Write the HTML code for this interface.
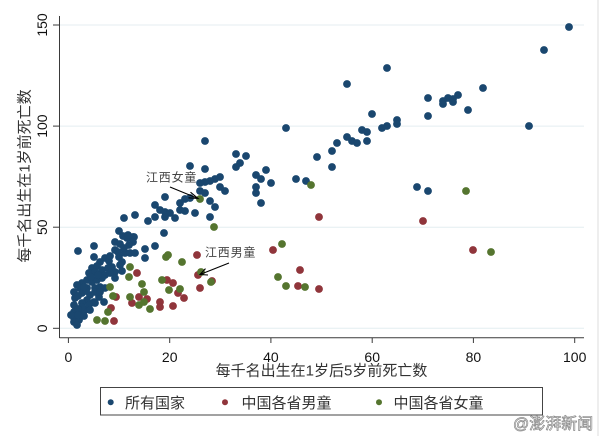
<!DOCTYPE html>
<html>
<head>
<meta charset="utf-8">
<style>
html,body{margin:0;padding:0;background:#fff;}
svg{display:block;}
text{font-family:"Liberation Sans","Noto Sans CJK SC",sans-serif;}
</style>
</head>
<body>
<svg width="600" height="436" viewBox="0 0 600 436" xmlns="http://www.w3.org/2000/svg">
<rect x="0" y="0" width="600" height="436" fill="#fff"/>
<line x1="598" y1="0" x2="598" y2="436" stroke="#dcdcdc" stroke-width="1"/>

<!-- gridlines -->
<g stroke="#e4edf0" stroke-width="1">
<line x1="60" y1="328.3" x2="584" y2="328.3"/>
<line x1="60" y1="227.2" x2="584" y2="227.2"/>
<line x1="60" y1="126.1" x2="584" y2="126.1"/>
<line x1="60" y1="25" x2="584" y2="25"/>
</g>

<!-- axes -->
<g stroke="#3a3a3a" stroke-width="1">
<line x1="59.5" y1="16" x2="59.5" y2="338"/>
<line x1="59.5" y1="337.7" x2="584" y2="337.7"/>
<line x1="53" y1="328.3" x2="59.5" y2="328.3"/>
<line x1="53" y1="227.2" x2="59.5" y2="227.2"/>
<line x1="53" y1="126.1" x2="59.5" y2="126.1"/>
<line x1="53" y1="25" x2="59.5" y2="25"/>
<line x1="68.4" y1="337.7" x2="68.4" y2="343"/>
<line x1="169.7" y1="337.7" x2="169.7" y2="343"/>
<line x1="270.9" y1="337.7" x2="270.9" y2="343"/>
<line x1="372.2" y1="337.7" x2="372.2" y2="343"/>
<line x1="473.4" y1="337.7" x2="473.4" y2="343"/>
<line x1="574.7" y1="337.7" x2="574.7" y2="343"/>
</g>

<!-- y tick labels -->
<g font-size="14" fill="#111" text-anchor="middle">
<text transform="translate(47,328.3) rotate(-90)">0</text>
<text transform="translate(47,227.2) rotate(-90)">50</text>
<text transform="translate(47,126.1) rotate(-90)">100</text>
<text transform="translate(47,25) rotate(-90)">150</text>
</g>
<!-- x tick labels -->
<g font-size="14" fill="#111" text-anchor="middle">
<text x="68.4" y="362">0</text>
<text x="169.7" y="362">20</text>
<text x="270.9" y="362">40</text>
<text x="372.2" y="362">60</text>
<text x="473.4" y="362">80</text>
<text x="574.7" y="362">100</text>
</g>

<!-- axis titles -->
<text x="321.5" y="375.5" font-size="15" fill="#333" text-anchor="middle">每千名出生在1岁后5岁前死亡数</text>
<text transform="translate(29.5,176) rotate(-90)" font-size="15" fill="#333" text-anchor="middle">每千名出生在1岁前死亡数</text>

<!-- blue: all countries -->
<g fill="#1a476f">
<circle cx="569" cy="27" r="3.9"/><circle cx="544" cy="50" r="3.9"/><circle cx="387" cy="68" r="3.9"/><circle cx="347" cy="84" r="3.9"/>
<circle cx="483" cy="88" r="3.9"/><circle cx="458" cy="95" r="3.9"/><circle cx="448" cy="98" r="3.9"/><circle cx="453" cy="99" r="3.9"/>
<circle cx="443" cy="101" r="3.9"/><circle cx="453" cy="102" r="3.9"/><circle cx="443" cy="104" r="3.9"/><circle cx="428" cy="98" r="3.9"/>
<circle cx="468" cy="110" r="3.9"/><circle cx="372" cy="114" r="3.9"/><circle cx="428" cy="116" r="3.9"/><circle cx="397" cy="120" r="3.9"/>
<circle cx="397" cy="124" r="3.9"/><circle cx="387" cy="126" r="3.9"/><circle cx="382" cy="128" r="3.9"/><circle cx="529" cy="126" r="3.9"/>
<circle cx="362" cy="130" r="3.9"/><circle cx="367" cy="132" r="3.9"/><circle cx="367" cy="141" r="3.9"/><circle cx="347" cy="137" r="3.9"/>
<circle cx="352" cy="141" r="3.9"/><circle cx="357" cy="143" r="3.9"/><circle cx="337" cy="143" r="3.9"/><circle cx="332" cy="151" r="3.9"/>
<circle cx="317" cy="157" r="3.9"/><circle cx="332" cy="167" r="3.9"/><circle cx="306" cy="181" r="3.9"/><circle cx="417" cy="187" r="3.9"/>
<circle cx="428" cy="191" r="3.9"/>
<circle cx="286" cy="128" r="3.9"/><circle cx="296" cy="179" r="3.9"/><circle cx="205" cy="141" r="3.9"/><circle cx="236" cy="154" r="3.9"/>
<circle cx="246" cy="156" r="3.9"/><circle cx="240" cy="163" r="3.9"/><circle cx="236" cy="167" r="3.9"/><circle cx="190" cy="166" r="3.9"/>
<circle cx="205" cy="169" r="3.9"/><circle cx="266" cy="170" r="3.9"/><circle cx="256" cy="175" r="3.9"/><circle cx="261" cy="179" r="3.9"/>
<circle cx="271" cy="183" r="3.9"/><circle cx="220" cy="177" r="3.9"/><circle cx="215" cy="179" r="3.9"/><circle cx="210" cy="181" r="3.9"/>
<circle cx="205" cy="182" r="3.9"/><circle cx="200" cy="183" r="3.9"/><circle cx="220" cy="187" r="3.9"/><circle cx="225" cy="191" r="3.9"/>
<circle cx="256" cy="187" r="3.9"/><circle cx="256" cy="193" r="3.9"/><circle cx="200" cy="191" r="3.9"/><circle cx="205" cy="193" r="3.9"/>
<circle cx="261" cy="203" r="3.9"/><circle cx="165" cy="197" r="3.9"/><circle cx="185" cy="199" r="3.9"/><circle cx="190" cy="198" r="3.9"/>
<circle cx="180" cy="203" r="3.9"/><circle cx="210" cy="201" r="3.9"/><circle cx="215" cy="207" r="3.9"/><circle cx="180" cy="210" r="3.9"/>
<circle cx="185" cy="211" r="3.9"/><circle cx="195" cy="213" r="3.9"/><circle cx="210" cy="217" r="3.9"/><circle cx="155" cy="205" r="3.9"/>
<circle cx="160" cy="210" r="3.9"/><circle cx="165" cy="212" r="3.9"/><circle cx="170" cy="213" r="3.9"/><circle cx="175" cy="218" r="3.9"/>
<circle cx="155" cy="217" r="3.9"/><circle cx="165" cy="217" r="3.9"/><circle cx="135" cy="215" r="3.9"/><circle cx="124" cy="218" r="3.9"/>
<circle cx="148" cy="221" r="3.9"/><circle cx="164" cy="233" r="3.9"/><circle cx="133" cy="237" r="3.9"/>
<circle cx="127" cy="238" r="3.9"/>
<!-- blob -->
<circle cx="119" cy="231" r="3.9"/><circle cx="123" cy="236" r="3.9"/><circle cx="128" cy="235" r="3.9"/><circle cx="134" cy="237" r="3.9"/>
<circle cx="133" cy="242" r="3.9"/><circle cx="115" cy="242" r="3.9"/><circle cx="120" cy="244" r="3.9"/><circle cx="129" cy="245" r="3.9"/>
<circle cx="115" cy="250" r="3.9"/><circle cx="125" cy="253" r="3.9"/><circle cx="130" cy="253" r="3.9"/><circle cx="135" cy="253" r="3.9"/>
<circle cx="78" cy="251" r="3.9"/><circle cx="94" cy="246" r="3.9"/><circle cx="94" cy="257" r="3.9"/><circle cx="155" cy="246" r="3.9"/>
<circle cx="145" cy="249" r="3.9"/><circle cx="145" cy="258" r="3.9"/><circle cx="124" cy="248" r="3.9"/>
<circle cx="105" cy="258" r="3.9"/><circle cx="100" cy="262" r="3.9"/><circle cx="109" cy="261" r="3.9"/><circle cx="119" cy="257" r="3.9"/>
<circle cx="122" cy="262" r="3.9"/>
<circle cx="92" cy="268" r="3.9"/><circle cx="97" cy="266" r="3.9"/><circle cx="89" cy="273" r="3.9"/><circle cx="95" cy="272" r="3.9"/>
<circle cx="102" cy="270" r="3.9"/><circle cx="105" cy="275" r="3.9"/><circle cx="112" cy="267" r="3.9"/><circle cx="115" cy="272" r="3.9"/>
<circle cx="120" cy="265" r="3.9"/><circle cx="122" cy="271" r="3.9"/><circle cx="115" cy="278" r="3.9"/><circle cx="108" cy="268" r="3.9"/>
<circle cx="82" cy="283" r="3.9"/><circle cx="87" cy="280" r="3.9"/><circle cx="92" cy="282" r="3.9"/><circle cx="97" cy="280" r="3.9"/>
<circle cx="102" cy="278" r="3.9"/><circle cx="80" cy="288" r="3.9"/><circle cx="87" cy="288" r="3.9"/><circle cx="95" cy="288" r="3.9"/>
<circle cx="100" cy="287" r="3.9"/><circle cx="105" cy="288" r="3.9"/><circle cx="77" cy="285" r="3.9"/>
<circle cx="74" cy="292" r="3.9"/><circle cx="82" cy="293" r="3.9"/><circle cx="90" cy="295" r="3.9"/><circle cx="99" cy="297" r="3.9"/>
<circle cx="104" cy="302" r="3.9"/><circle cx="94" cy="302" r="3.9"/><circle cx="87" cy="300" r="3.9"/><circle cx="82" cy="303" r="3.9"/>
<circle cx="75" cy="298" r="3.9"/><circle cx="95" cy="292" r="3.9"/><circle cx="86" cy="291" r="3.9"/>
<circle cx="74" cy="305" r="3.9"/><circle cx="74" cy="312" r="3.9"/><circle cx="74" cy="318" r="3.9"/><circle cx="74" cy="322" r="3.9"/>
<circle cx="79" cy="320" r="3.9"/><circle cx="80" cy="312" r="3.9"/><circle cx="85" cy="310" r="3.9"/><circle cx="82" cy="307" r="3.9"/>
<circle cx="78" cy="309" r="3.9"/><circle cx="95" cy="303" r="3.9"/><circle cx="89" cy="305" r="3.9"/><circle cx="90" cy="310" r="3.9"/>
<circle cx="78" cy="315" r="3.9"/><circle cx="84" cy="316" r="3.9"/>
<circle cx="78" cy="296" r="3.9"/><circle cx="84" cy="287" r="3.9"/><circle cx="91" cy="277" r="3.9"/><circle cx="98" cy="275" r="3.9"/>
<circle cx="100" cy="292" r="3.9"/><circle cx="110" cy="273" r="3.9"/><circle cx="110" cy="256" r="3.9"/><circle cx="118" cy="252" r="3.9"/>
<circle cx="77" cy="325" r="3.9"/><circle cx="71" cy="315" r="3.9"/>
</g>

<!-- red: provinces male -->
<g fill="#90353b">
<circle cx="319" cy="217" r="3.9"/><circle cx="423" cy="221" r="3.9"/><circle cx="473" cy="250" r="3.9"/><circle cx="319" cy="289" r="3.9"/>
<circle cx="300" cy="270" r="3.9"/><circle cx="298" cy="286" r="3.9"/><circle cx="273" cy="250" r="3.9"/><circle cx="197" cy="255" r="3.9"/>
<circle cx="198" cy="275" r="3.9"/><circle cx="200" cy="288" r="3.9"/><circle cx="212" cy="281" r="3.9"/><circle cx="167" cy="280" r="3.9"/>
<circle cx="173" cy="283" r="3.9"/><circle cx="178" cy="293" r="3.9"/><circle cx="184" cy="298" r="3.9"/><circle cx="173" cy="306" r="3.9"/>
<circle cx="160" cy="302" r="3.9"/><circle cx="160" cy="307" r="3.9"/><circle cx="137" cy="273" r="3.9"/><circle cx="132" cy="303" r="3.9"/>
<circle cx="139" cy="297" r="3.9"/><circle cx="147" cy="299" r="3.9"/><circle cx="116" cy="297" r="3.9"/><circle cx="111" cy="308" r="3.9"/>
<circle cx="114" cy="321" r="3.9"/>
</g>

<!-- green: provinces female -->
<g fill="#55752f">
<circle cx="311" cy="185" r="3.9"/><circle cx="466" cy="191" r="3.9"/><circle cx="491" cy="252" r="3.9"/><circle cx="305" cy="287" r="3.9"/>
<circle cx="282" cy="244" r="3.9"/><circle cx="278" cy="277" r="3.9"/><circle cx="286" cy="286" r="3.9"/><circle cx="214" cy="227" r="3.9"/>
<circle cx="200" cy="199" r="3.9"/><circle cx="201" cy="272" r="3.9"/><circle cx="211" cy="282" r="3.9"/><circle cx="166" cy="257" r="3.9"/>
<circle cx="168" cy="255" r="3.9"/><circle cx="182" cy="262" r="3.9"/><circle cx="162" cy="280" r="3.9"/><circle cx="169" cy="290" r="3.9"/>
<circle cx="180" cy="289" r="3.9"/><circle cx="130" cy="267" r="3.9"/><circle cx="129" cy="277" r="3.9"/><circle cx="142" cy="284" r="3.9"/>
<circle cx="144" cy="292" r="3.9"/><circle cx="130" cy="297" r="3.9"/><circle cx="139" cy="305" r="3.9"/><circle cx="144" cy="302" r="3.9"/>
<circle cx="150" cy="309" r="3.9"/><circle cx="110" cy="287" r="3.9"/><circle cx="113" cy="296" r="3.9"/><circle cx="108" cy="312" r="3.9"/>
<circle cx="97" cy="320" r="3.9"/><circle cx="105" cy="321" r="3.9"/>
</g>

<!-- annotations -->
<g fill="#444" font-size="12" letter-spacing="0.8">
<text x="146" y="181.5">江西女童</text>
<text x="205" y="256.5">江西男童</text>
</g>
<g stroke="#000" stroke-width="1.1" fill="none">
<line x1="170" y1="187" x2="198" y2="198.5"/>
<polyline points="190.5,192.2 198,198.5 188.5,197.8"/>
<line x1="229" y1="263" x2="200" y2="274.5"/>
<polyline points="205.5,268.6 200,274.5 208,275"/>
</g>

<!-- legend -->
<rect x="100.5" y="387.5" width="442" height="27.5" fill="#fff" stroke="#444" stroke-width="1"/>
<circle cx="110.7" cy="402.3" r="3" fill="#1a476f"/>
<circle cx="225" cy="402.3" r="3" fill="#90353b"/>
<circle cx="379" cy="402.3" r="3" fill="#55752f"/>
<g font-size="15" fill="#333">
<text x="125" y="408">所有国家</text>
<text x="241.5" y="408">中国各省男童</text>
<text x="393.5" y="408">中国各省女童</text>
</g>

<!-- watermark -->
<text x="513" y="429" font-size="16" fill="#fff" stroke="#8a8a8a" stroke-width="0.7">@澎湃新闻</text>
</svg>
</body>
</html>
